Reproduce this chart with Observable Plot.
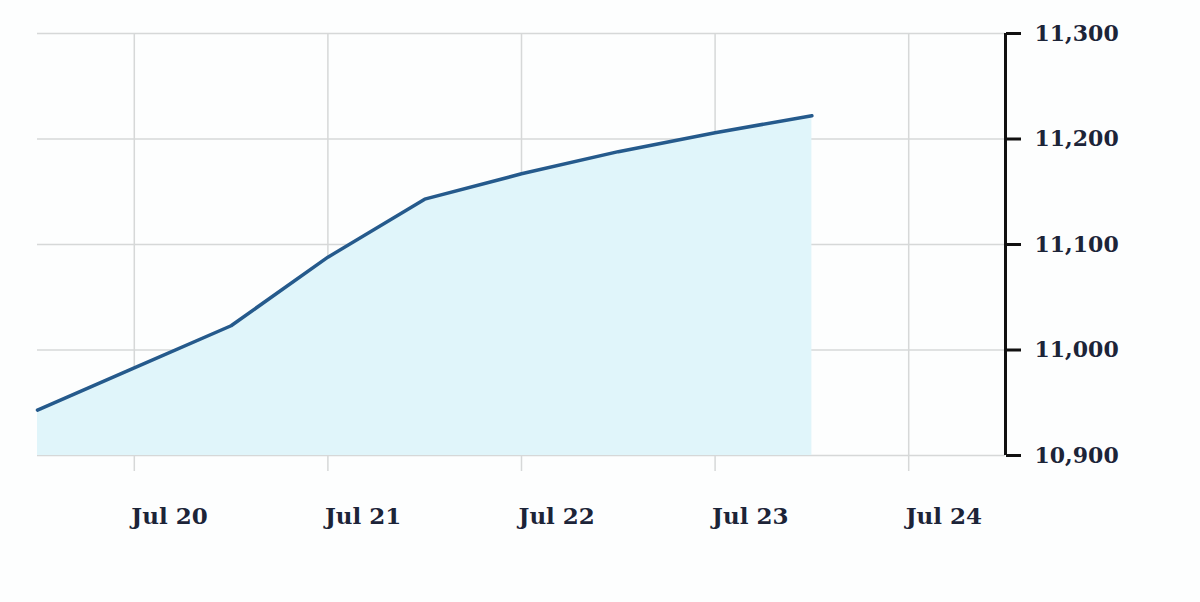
<!DOCTYPE html>
<html>
<head>
<meta charset="utf-8">
<script src="https://cdn.jsdelivr.net/npm/d3@7"></script>
<script src="https://cdn.jsdelivr.net/npm/@observablehq/plot@0.6"></script>
<style>
  html, body { margin: 0; padding: 0; background: #fdfefe; }
  #chart svg { display: block; }
</style>
</head>
<body>
<div id="chart"></div>
<script>
// Data (12-hourly readings)
const times = [
  "2023-07-19T12:00Z", "2023-07-20T00:00Z", "2023-07-20T12:00Z",
  "2023-07-21T00:00Z", "2023-07-21T12:00Z", "2023-07-22T00:00Z",
  "2023-07-22T12:00Z", "2023-07-23T00:00Z", "2023-07-23T12:00Z"
];
const values = [10943, 10983, 11023, 11088, 11143, 11167, 11188, 11206, 11222];

const xTicks = ["2023-07-20", "2023-07-21", "2023-07-22", "2023-07-23", "2023-07-24"];
const xDomain = ["2023-07-19T12:00Z", "2023-07-24T12:00Z"];
const yTicks = [10900, 11000, 11100, 11200, 11300];
const yDomain = [10900, 11300];

const data = times.map((t, i) => ({date: new Date(t), value: values[i]}));
const xTickDates = xTicks.map(t => new Date(t + "T00:00Z"));
const xDomainDates = xDomain.map(t => new Date(t));

const font = "'DejaVu Serif', serif";

const chart = Plot.plot({
  width: 1200,
  height: 602,
  marginLeft: 37,
  marginRight: 195,
  marginTop: 33,
  marginBottom: 147,
  style: {background: "transparent", fontFamily: font},
  x: {type: "utc", domain: xDomainDates, label: null},
  y: {domain: yDomain, label: null},
  marks: [
    Plot.gridY(yTicks, {stroke: "#d6d8d8", strokeOpacity: 1, strokeWidth: 1.5}),
    Plot.gridX(xTickDates, {stroke: "#d6d8d8", strokeOpacity: 1, strokeWidth: 1.5}),
    Plot.areaY(data, {x: "date", y1: yDomain[0], y2: "value", fill: "#e0f5fa"}),
    Plot.line(data, {x: "date", y: "value", stroke: "#255a8c", strokeWidth: 3.5}),
    Plot.axisX(xTickDates, {
      tickSize: 16,
      stroke: "#d6d8d8",
      strokeWidth: 1.5,
      tickFormat: () => "",
      label: null
    }),
    Plot.axisX(xTickDates, {
      tickSize: 0,
      tickPadding: 52,
      textAnchor: "start",
      dx: -3,
      fill: "#1c2438",
      fontSize: 23,
      fontWeight: "bold",
      fontFamily: font,
      tickFormat: d3.utcFormat("%b %-d"),
      label: null
    }),
    Plot.ruleX([xDomainDates[1]], {stroke: "#111", strokeWidth: 3, y1: yDomain[0], y2: yDomain[1]}),
    Plot.axisY(yTicks, {
      anchor: "right",
      tickSize: 15,
      tickPadding: 14,
      stroke: "#111",
      strokeWidth: 3,
      fill: "#1c2438",
      fontSize: 22,
      fontWeight: "bold",
      fontFamily: font,
      tickFormat: d3.format(","),
      label: null
    })
  ]
});

document.getElementById("chart").append(chart);
</script>
</body>
</html>
